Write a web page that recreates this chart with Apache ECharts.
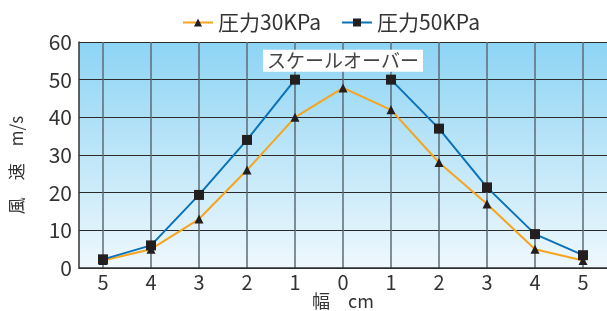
<!DOCTYPE html>
<html>
<head>
<meta charset="utf-8">
<script src="https://cdn.jsdelivr.net/npm/echarts@6/dist/echarts.min.js"></script>
<style>
  html, body { margin: 0; padding: 0; background: #fff; }
  #chart { width: 607px; height: 311px; }
</style>
</head>
<body>
<div id="chart"></div>
<script>
// 横軸（幅 cm）
const categories = ["5", "4", "3", "2", "1", "0", "1", "2", "3", "4", "5"];
// 圧力30KPa
const p30 = [2, 5, 13, 26, 40, 47.8, 42, 28, 17, 5, 2];
// 圧力50KPa（中央はスケールオーバー）
const p50 = [2.3, 6, 19.4, 34, 50, null, 50, 37, 21.4, 9, 3.4];
const seriesNames = ["圧力30KPa", "圧力50KPa"];
const overLabel = "スケールオーバー";

const font = "'Noto Sans CJK JP', 'Noto Sans', sans-serif";
const chart = echarts.init(document.getElementById("chart"));

const option = {
  animation: false,
  textStyle: { fontFamily: font },
  legend: {
    data: seriesNames,
    top: 7,
    left: 177,
    itemWidth: 30,
    itemHeight: 10,
    itemGap: 20,
    textStyle: { fontSize: 21, color: "#333", fontFamily: font }
  },
  grid: {
    left: 79,
    right: 0,
    top: 42,
    bottom: 43,
    outerBoundsMode: "none",
    containLabel: false,
    show: true,
    borderWidth: 0,
    backgroundColor: new echarts.graphic.LinearGradient(0, 0, 0, 1, [
      { offset: 0, color: "#8dd4f4" },
      { offset: 1, color: "#eff8fd" }
    ])
  },
  xAxis: {
    type: "category",
    data: categories,
    boundaryGap: true,
    name: "幅　cm",
    nameLocation: "middle",
    nameGap: 24,
    nameMoveOverlap: false,
    nameTextStyle: { fontSize: 18, color: "#333", fontFamily: font },
    axisLine: { lineStyle: { color: "#333", width: 1.5 } },
    axisTick: { show: false, alignWithLabel: true },
    axisLabel: { fontSize: 20, color: "#333", margin: 4, interval: 0 },
    splitLine: {
      show: true,
      alignWithLabel: true,
      interval: 0,
      lineStyle: { color: "#5d6b74", width: 1.5 }
    }
  },
  yAxis: {
    type: "value",
    min: 0,
    max: 60,
    interval: 10,
    name: "風　速　m/s",
    nameLocation: "middle",
    nameRotate: 90,
    nameGap: 54,
    nameMoveOverlap: false,
    nameTextStyle: { fontSize: 17, color: "#333", fontFamily: font, padding: [0, 20, 0, 0] },
    axisLine: { show: true, lineStyle: { color: "#333", width: 1.5 } },
    axisTick: { show: false },
    axisLabel: { fontSize: 21, color: "#333", margin: 7 },
    splitLine: { show: true, lineStyle: { color: "#2a2a2a", width: 1 } }
  },
  series: [
    {
      name: seriesNames[0],
      type: "line",
      data: p30,
      symbol: "triangle",
      symbolSize: 9,
      itemStyle: { color: "#231f20" },
      lineStyle: { color: "#f5a41e", width: 2 },
      z: 3
    },
    {
      name: seriesNames[1],
      type: "line",
      data: p50,
      connectNulls: false,
      symbol: "rect",
      symbolSize: 10,
      itemStyle: { color: "#231f20" },
      lineStyle: { color: "#0a72b9", width: 2 },
      z: 4,
      markPoint: {
        symbol: "rect",
        symbolSize: 1,
        itemStyle: { color: "rgba(0,0,0,0)" },
        label: {
          show: true,
          position: "inside",
          formatter: overLabel,
          backgroundColor: "#fff",
          padding: [2, 4, 1, 4],
          fontSize: 19,
          color: "#444",
          fontFamily: font
        },
        data: [{ coord: [5, 55] }]
      }
    }
  ]
};

chart.setOption(option);
</script>
</body>
</html>
